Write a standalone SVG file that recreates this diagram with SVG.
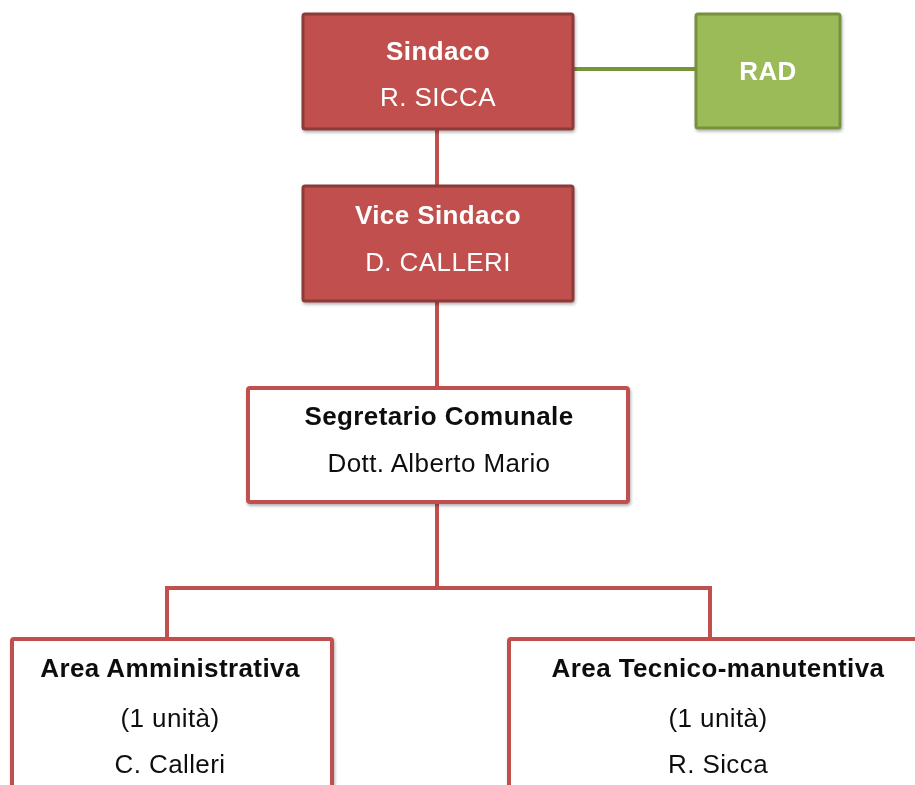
<svg xmlns="http://www.w3.org/2000/svg" width="915" height="785" viewBox="0 0 915 785">
<defs>
<filter id="sh" x="-10%" y="-10%" width="120%" height="130%">
<feDropShadow dx="1" dy="2" stdDeviation="1.5" flood-color="#000" flood-opacity="0.3"/>
</filter>
<style>
.red{fill:#c0504d;stroke:#8c3a37;stroke-width:3}
.green{fill:#9bbb59;stroke:#76923c;stroke-width:3}
.white{fill:#ffffff;stroke:#c0504d;stroke-width:4}
.conn{fill:none;stroke:#c0504d;stroke-width:4}
.gconn{fill:none;stroke:#77933c;stroke-width:4}
text{font-family:"Liberation Sans",Arial,sans-serif;font-size:26px;letter-spacing:0.4px;text-anchor:middle}
.b{font-weight:bold}
.w{fill:#ffffff}
.k{fill:#111111}
</style>
</defs>
<rect width="915" height="785" fill="#ffffff"/>
<g id="connectors">
<path class="conn" d="M437,129 V185"/>
<path class="conn" d="M437,301 V387"/>
<path class="conn" d="M437,502 V588 M167,638 V588 H710 V638"/>
<path class="gconn" d="M573,69 H695"/>
</g>
<g id="sindaco" filter="url(#sh)">
<rect class="red" x="303" y="14" width="270" height="115" rx="2"/>
<text class="b w" x="438" y="60">Sindaco</text>
<text class="w" x="438" y="106">R. SICCA</text>
</g>
<g id="rad" filter="url(#sh)">
<rect class="green" x="696" y="14" width="144" height="114" rx="2"/>
<text class="b w" x="768" y="80">RAD</text>
</g>
<g id="vicesindaco" filter="url(#sh)">
<rect class="red" x="303" y="186" width="270" height="115" rx="2"/>
<text class="b w" x="438" y="224">Vice Sindaco</text>
<text class="w" x="438" y="271">D. CALLERI</text>
</g>
<g id="segretario" filter="url(#sh)">
<rect class="white" x="248" y="388" width="380" height="114" rx="2"/>
<text class="b k" x="439" y="425">Segretario Comunale</text>
<text class="k" x="439" y="472">Dott. Alberto Mario</text>
</g>
<g id="areaamministrativa" filter="url(#sh)">
<rect class="white" x="12" y="639" width="320" height="170" rx="2"/>
<text class="b k" x="170" y="677">Area Amministrativa</text>
<text class="k" x="170" y="727">(1 unità)</text>
<text class="k" x="170" y="773">C. Calleri</text>
</g>
<g id="areatecnica" filter="url(#sh)">
<rect class="white" x="509" y="639" width="418" height="170" rx="2"/>
<text class="b k" x="718" y="677">Area Tecnico-manutentiva</text>
<text class="k" x="718" y="727">(1 unità)</text>
<text class="k" x="718" y="773">R. Sicca</text>
</g>
</svg>
